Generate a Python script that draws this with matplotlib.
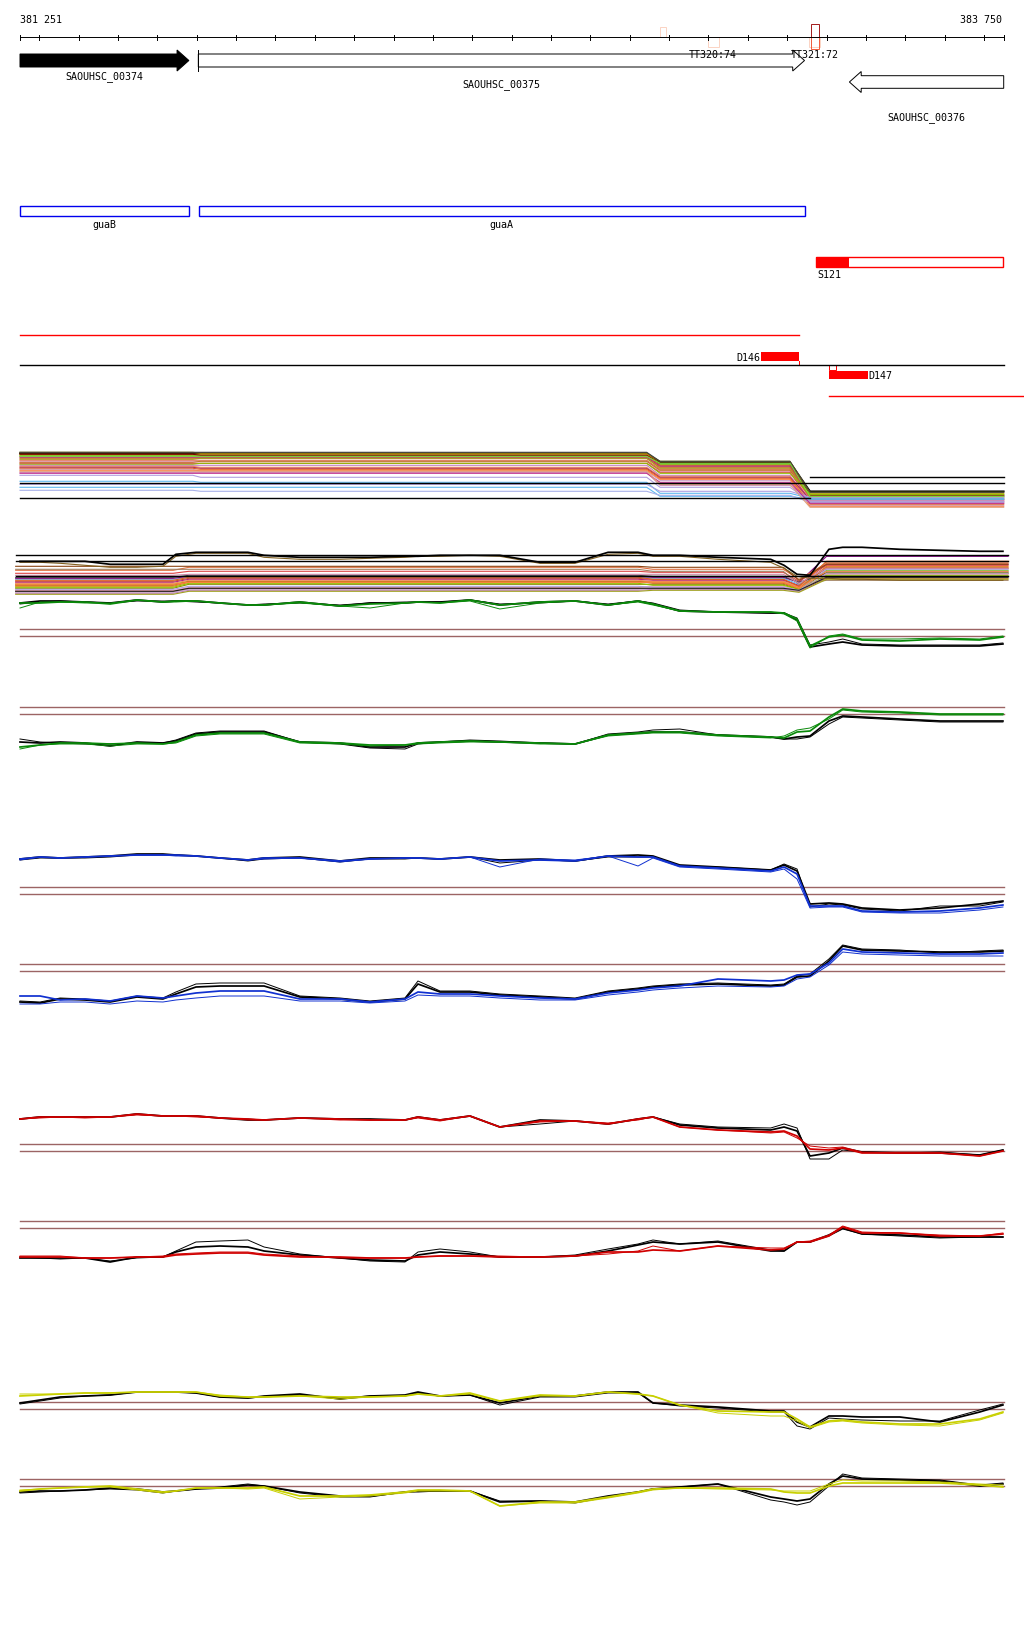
import numpy as np
import matplotlib.pyplot as plt

plt.rcParams['font.family'] = 'DejaVu Sans Mono'

# ---- window
START, END = 381251, 383750
W, H = 1024, 1640
PX_LEFT, PX_RIGHT = 20, 1003.7

# ---- genes
GENE_NAMES = ['SAOUHSC_00374', 'SAOUHSC_00375', 'SAOUHSC_00376']
GENE_START = [381251, 381704, 383358]
GENE_END = [381680, 383244, 383750]
GENE_STRAND = [1, 1, -1]
GENE_FILLED = [True, False, False]

# ---- terminators
TERM_NAMES = ['TT320:74', 'TT321:72']
TERM_POS = [383012, 383270]
TERM_BOX_START = [382877, 382998, 383255, 383260, 383260]
TERM_BOX_END = [382892, 383026, 383283, 383280, 383280]
TERM_BOX_H = [10, -10, -10, 13, -12]
TERM_BOX_COLOR = ['#fbd3c3', '#fbd3c3', '#fbd3c3', '#a31a1a', '#f25a3a']

# ---- operon annotation (blue boxes)
OPERON_NAMES = ['guaB', 'guaA']
OPERON_START = [381251, 381705]
OPERON_END = [381680, 383244]

# ---- segments
S121_START, S121_END, S121_FILL_END = 383273, 383749, 383358
D146_START, D146_END = 383134, 383231
D147_START, D147_END, D147_MARK_END = 383307, 383406, 383325

# ---- multi-sample track A (levels above the full reference line)
A_COLORS = ['#000000', '#8c8c00', '#e8801a', '#66dd00', '#c8502a', '#b02080', '#800000',
            '#d2691e', '#a0a020', '#e07040', '#e8a0d0', '#c07830', '#dd4444', '#90c000',
            '#c080c0', '#f09060', '#b03060', '#e06020', '#c8a0c8', '#ff8040', '#cc88aa',
            '#b0a0e0', '#60b8f0', '#b0a0e0', '#60b8f0', '#a8b0e8', '#c03090', '#e0a080',
            '#404040', '#70e040']
A_LEFT1 = [30, 31, 29, 28, 27, 26, 29, 25, 24, 23, 22, 21, 20, 19, 18, 17, 16, 15, 14, 13,
           11, 8, 2, -1, -4, -7, 10, 12, 31, 27]
A_LEFT2 = [30, 30, 29, 28, 27, 26, 28, 25, 25, 23, 22, 22, 20, 20, 18, 16, 15, 14, 12, 13,
           11, 6, 1, -1, -4, -8, 10, 12, 31, 27]
A_MID = [21, 22, 20, 19, 18, 17, 20, 16, 15, 14, 12, 13, 11, 10, 8, 7, 6, 5, 3, 4,
         -2, -4, -10, -8, -13, -12, 1, -1, 22, 20]
A_RIGHT = [-8, -9, -10, -11, -12, -13, -12, -14, -15, -16, -17, -13, -18, -11, -19, -20,
           -16, -21, -22, -23, -17, -18, -15, -14, -16, -19, -20, -24, -9, -13]

# ---- multi-sample track B
B_COLORS = ['#c8502a', '#66dd00', '#e8801a', '#8c8c00', '#b02080', '#e8a0d0', '#60b8f0',
            '#d2691e', '#c07830', '#800080', '#dd4444', '#e07040', '#a08060', '#c080c0',
            '#90c000', '#f09060', '#b0a0e0', '#404040', '#e06020', '#c8a0c8', '#a0a020',
            '#cc88aa', '#8b4513', '#ff8040', '#202020']
B_LEFT1 = [-5, -8, -10, -12, -6, -14, -3, -9, -15, -2, 3, 6, 7, -17, -11, -7, -13, -1, -4,
           -16, -18, 1, 10, -8, -15]
B_LEFT2 = [-2, -5, -6, -8, -3, -11, -1, -5, -12, 0, 5, 9, 7, -14, -7, -4, -10, 1, -1,
           -13, -15, 2, 10, -6, -12]
B_MID = [-3, -6, -5, -8, -4, -10, -2, -7, -12, -1, 4, 7, 5, -13, -9, -5, -11, 0, -3,
         -12, -14, 2, 9, -6, -12]
B_DIP = [-10, -12, -11, -13, -9, -14, -8, -12, -15, -6, -5, -3, -8, -15, -13, -11, -14,
         -6, -10, -15, -16, -7, -4, -12, -14]
B_RIGHT = [8, 6, 10, 4, 12, 2, 5, 9, -2, 20, 11, 13, -4, 0, 1, 14, 7, 3, 15, 3, -3, 8,
           12, 5, -1]

# profile positions shared by the single-sample tracks
POS = [381251, 381302, 381353, 381416, 381480, 381548, 381614, 381647, 381698, 381759,
       381830, 381871, 381962, 382064, 382140, 382229, 382262, 382318, 382394, 382470,
       382572, 382661, 382745, 382821, 382859, 382927, 383024, 383158, 383192, 383225,
       383258, 383306, 383341, 383390, 383486, 383588, 383689, 383748]

B_TOP_BLACK = [15, 15, 15, 15, 12, 12, 12, 22, 24, 24, 24, 21, 19, 19, 19, 20, 20, 21, 21,
               21, 14, 14, 24, 24, 21, 21, 19, 17, 11, 2, 1, 27, 29, 29, 27, 26, 25, 25]
B_TOP_OLIVE = [14, 14, 13, 11, 9, 9, 10, 20, 23, 23, 23, 19, 17, 17, 18, 19, 20, 20, 21,
               20, 13, 13, 22, 23, 20, 20, 17, 14, 8, 0, -2, -2, -3, -3, -4, -4, -4, -4]

GREEN1_BLACK = [33, 35, 35, 34, 33, 36, 34, 35, 35, 33, 31, 31, 34, 30, 33, 33, 34, 34, 36,
                31, 34, 35, 31, 35, 32, 25, 24, 23, 23, 16, -11, -8, -6, -9, -10, -10, -10, -8]
GREEN1_BLACK_THIN = [32, 34, 35, 34, 33, 35, 35, 35, 34, 33, 31, 32, 33, 31, 33, 34, 34, 34,
                     36, 32, 33, 35, 32, 35, 33, 26, 24, 23, 23, 18, -9, -6, -3, -8, -9, -9, -9, -7]
GREEN1_COL = [33, 33, 34, 34, 32, 36, 34, 35, 35, 33, 31, 31, 34, 30, 32, 33, 34, 33, 36,
              31, 34, 35, 31, 35, 32, 25, 24, 24, 23, 17, -10, -1, 1, -4, -5, -3, -4, -1]
GREEN1_COL_THIN = [28, 34, 34, 33, 33, 36, 34, 34, 35, 33, 31, 31, 33, 30, 28, 33, 34, 33,
                   35, 27, 33, 35, 31, 34, 31, 25, 24, 24, 22, 15, -12, 0, 2, -3, -3, -2, -3, 0]

GREEN2_BLACK = [-28, -29, -28, -29, -32, -28, -29, -27, -20, -18, -18, -18, -28, -29, -33,
                -33, -29, -28, -27, -28, -29, -30, -21, -19, -18, -18, -21, -23, -25, -23,
                -22, -7, -2, -3, -5, -7, -7, -7]
GREEN2_BLACK_THIN = [-25, -28, -29, -30, -30, -29, -29, -26, -19, -17, -17, -17, -28, -30,
                     -34, -35, -30, -28, -26, -27, -29, -30, -20, -18, -16, -15, -21, -23,
                     -25, -25, -23, -10, -3, -4, -6, -8, -8, -8]
GREEN2_COL = [-33, -31, -29, -29, -30, -29, -30, -28, -21, -19, -19, -19, -28, -29, -31,
              -31, -29, -28, -27, -28, -29, -30, -21, -19, -18, -18, -21, -23, -24, -18,
              -17, -3, 5, 3, 2, 0, 0, 0]
GREEN2_COL_THIN = [-35, -31, -30, -30, -32, -30, -30, -29, -22, -20, -20, -20, -29, -30,
                   -32, -31, -30, -29, -28, -28, -30, -30, -22, -20, -19, -19, -22, -24,
                   -22, -16, -14, -5, 4, 2, 1, -1, -1, -1]

BLUE1_BLACK = [35, 37, 36, 37, 38, 40, 40, 39, 38, 36, 34, 36, 37, 33, 36, 36, 36, 35, 37,
               34, 35, 33, 38, 39, 38, 29, 27, 24, 29, 23, -10, -9, -10, -14, -16, -14, -10, -7]
BLUE1_BLACK_THIN = [34, 36, 36, 36, 37, 39, 39, 39, 38, 36, 33, 35, 36, 32, 35, 35, 36, 35,
                    37, 31, 34, 33, 37, 37, 37, 28, 27, 24, 30, 25, -13, -10, -11, -15, -17,
                    -12, -12, -8]
BLUE1_COL = [35, 37, 36, 37, 38, 39, 39, 39, 38, 36, 34, 36, 36, 33, 35, 36, 36, 35, 37, 33,
             34, 33, 38, 37, 37, 28, 26, 23, 27, 20, -12, -12, -12, -17, -18, -17, -14, -11]
BLUE1_COL_THIN = [34, 37, 36, 37, 38, 39, 39, 38, 38, 36, 34, 35, 36, 32, 35, 36, 36, 35,
                  37, 27, 35, 34, 38, 28, 36, 27, 25, 22, 25, 15, -14, -13, -13, -18, -19,
                  -19, -16, -13]

BLUE2_BLACK = [-31, -32, -28, -29, -31, -26, -28, -23, -16, -15, -15, -15, -26, -28, -31,
               -28, -13, -21, -21, -24, -26, -28, -21, -18, -16, -14, -13, -15, -14, -6, -5,
               10, 25, 21, 20, 19, 19, 20]
BLUE2_BLACK_THIN = [-30, -31, -27, -28, -30, -25, -27, -21, -13, -12, -12, -12, -25, -27,
                    -30, -27, -10, -20, -20, -23, -25, -27, -20, -17, -15, -13, -12, -14,
                    -13, -5, -3, 12, 26, 22, 21, 18, 20, 21]
BLUE2_COL = [-25, -25, -29, -28, -30, -25, -27, -25, -22, -20, -20, -20, -28, -28, -31, -28,
             -21, -23, -23, -25, -27, -28, -22, -19, -17, -15, -8, -10, -9, -4, -3, 8, 22,
             19, 18, 17, 17, 18]
BLUE2_COL_THIN = [-33, -33, -31, -31, -33, -30, -31, -29, -27, -25, -25, -25, -30, -30, -32,
                  -30, -24, -25, -25, -27, -29, -29, -24, -21, -19, -17, -15, -16, -15, -8,
                  -6, 6, 19, 17, 16, 15, 15, 15]

RED1_BLACK = [32, 34, 34, 34, 34, 37, 35, 35, 35, 33, 31, 31, 33, 32, 32, 31, 34, 31, 35, 24,
              31, 30, 27, 32, 34, 26, 23, 21, 24, 20, -5, -2, 3, -1, -2, -2, -4, 1]
RED1_BLACK_THIN = [32, 34, 34, 34, 34, 37, 35, 35, 35, 33, 32, 31, 33, 32, 31, 31, 34, 31,
                   35, 24, 27, 30, 27, 32, 34, 27, 24, 23, 27, 23, -8, -8, 1, -1, -2, -1, -4, 1]
RED1_COL = [32, 34, 34, 34, 34, 37, 35, 35, 35, 33, 32, 31, 33, 32, 31, 31, 34, 31, 35, 24,
            30, 30, 27, 32, 34, 24, 21, 19, 20, 15, 2, 1, 3, -2, -2, -2, -5, 0]
RED1_COL_THIN = [32, 33, 34, 33, 34, 36, 35, 35, 34, 33, 31, 31, 33, 31, 31, 31, 33, 30, 35,
                 24, 29, 30, 28, 31, 34, 24, 21, 18, 19, 13, 5, 3, 4, -1, -2, -2, -5, 0]

RED2_BLACK = [-30, -30, -30, -30, -34, -29, -29, -24, -19, -18, -19, -23, -27, -30, -32,
              -33, -27, -24, -26, -29, -29, -28, -23, -17, -14, -16, -14, -23, -23, -14, -14,
              -7, 0, -6, -7, -9, -9, -9]
RED2_BLACK_THIN = [-29, -30, -31, -30, -33, -30, -29, -23, -14, -13, -12, -19, -26, -30, -33,
                   -34, -24, -21, -24, -29, -29, -27, -21, -16, -12, -16, -13, -22, -23, -14,
                   -14, -8, -1, -6, -8, -10, -9, -9]
RED2_COL = [-29, -29, -29, -30, -30, -29, -29, -27, -26, -25, -25, -27, -29, -29, -30, -30,
            -29, -28, -28, -29, -29, -28, -24, -24, -22, -23, -18, -22, -21, -14, -14, -8, 1,
            -5, -5, -8, -8, -6]
RED2_COL_THIN = [-28, -28, -28, -30, -30, -29, -28, -26, -25, -24, -24, -26, -28, -30, -30,
                 -30, -29, -28, -28, -28, -29, -28, -26, -23, -18, -23, -18, -20, -20, -14,
                 -13, -7, 2, -4, -5, -7, -8, -5]

YELLOW1_BLACK = [6, 9, 12, 13, 14, 17, 17, 17, 16, 12, 11, 13, 15, 10, 13, 14, 17, 13, 14, 6,
                 13, 13, 17, 17, 6, 4, 2, -2, -2, -13, -18, -7, -7, -8, -8, -13, -3, 4]
YELLOW1_BLACK_THIN = [5, 8, 11, 13, 14, 17, 17, 17, 16, 12, 11, 12, 14, 11, 13, 13, 16, 13,
                      14, 4, 12, 12, 16, 16, 6, 3, 1, -3, -3, -17, -20, -9, -10, -11, -12,
                      -12, -1, 5]
YELLOW1_COL = [13, 14, 15, 16, 16, 17, 17, 17, 17, 13, 12, 12, 13, 12, 12, 13, 15, 13, 16, 8,
               14, 13, 17, 15, 13, 4, -2, -3, -3, -10, -18, -12, -11, -13, -15, -15, -10, -3]
YELLOW1_COL_THIN = [15, 15, 15, 16, 16, 17, 17, 17, 17, 14, 12, 12, 13, 10, 12, 13, 15, 13,
                    15, 8, 13, 13, 17, 15, 13, 4, -4, -7, -7, -12, -19, -13, -12, -14, -16,
                    -17, -11, -4]

YELLOW2_BLACK = [-6, -5, -5, -4, -2, -3, -6, -5, -3, -2, 1, 0, -6, -10, -10, -6, -5, -5, -5,
                 -16, -15, -16, -10, -6, -3, -1, 2, -11, -13, -15, -13, 2, 10, 7, 6, 5, 0, 2]
YELLOW2_BLACK_THIN = [-7, -6, -5, -4, -3, -4, -7, -5, -3, -1, 2, 0, -7, -11, -11, -6, -6, -5,
                      -5, -15, -15, -17, -11, -6, -3, -1, 2, -14, -16, -19, -16, 0, 12, 8, 7,
                      6, 1, 3]
YELLOW2_COL = [-5, -3, -2, -1, 0, -3, -6, -5, -2, -2, -2, -1, -10, -10, -9, -6, -4, -4, -5,
               -20, -16, -16, -11, -6, -3, -2, -2, -3, -6, -7, -7, 0, 3, 3, 3, 3, 1, -1]
YELLOW2_COL_THIN = [-4, -3, -2, -1, -1, -4, -7, -5, -2, -2, -3, -2, -13, -11, -10, -7, -5,
                    -5, -5, -20, -17, -17, -12, -7, -4, -2, -3, -4, -5, -5, -5, 2, 6, 5, 5, 4,
                    2, 1]

# ---- layout (pixel rows)
PROFILE_TRACKS = [
    (637, '#0a8a0a', GREEN1_BLACK, GREEN1_BLACK_THIN, GREEN1_COL, GREEN1_COL_THIN),
    (715, '#0a8a0a', GREEN2_BLACK, GREEN2_BLACK_THIN, GREEN2_COL, GREEN2_COL_THIN),
    (895, '#1030d0', BLUE1_BLACK, BLUE1_BLACK_THIN, BLUE1_COL, BLUE1_COL_THIN),
    (972, '#1030d0', BLUE2_BLACK, BLUE2_BLACK_THIN, BLUE2_COL, BLUE2_COL_THIN),
    (1152, '#d00000', RED1_BLACK, RED1_BLACK_THIN, RED1_COL, RED1_COL_THIN),
    (1229, '#d00000', RED2_BLACK, RED2_BLACK_THIN, RED2_COL, RED2_COL_THIN),
    (1410, '#c8d000', YELLOW1_BLACK, YELLOW1_BLACK_THIN, YELLOW1_COL, YELLOW1_COL_THIN),
    (1487, '#c8d000', YELLOW2_BLACK, YELLOW2_BLACK_THIN, YELLOW2_COL, YELLOW2_COL_THIN),
]
BROWN = '#9c6464'
THIN, THICK = 0.7, 1.25

bp_per_px = (END - START) / (PX_RIGHT - PX_LEFT)
x0 = START - PX_LEFT * bp_per_px
x1 = x0 + W * bp_per_px

fig = plt.figure(figsize=(W / 100, H / 100), dpi=100)
ax = fig.add_axes([0, 0, 1, 1])
ax.set_xlim(x0, x1)
ax.set_ylim(H, 0)
ax.axis('off')
FS = 7.2

# ruler
ax.plot([START, END], [38.3, 38.3], color='k', lw=THIN)
for t in [START] + list(range(381300, END, 100)) + [END]:
    ax.plot([t, t], [36.3, 40.6], color='k', lw=THIN)
ax.text(START, 20, '381 251', fontsize=FS, va='center', ha='left')
ax.text(END - 4, 20, '383 750', fontsize=FS, va='center', ha='right')

# terminators
for s, e, h, c in zip(TERM_BOX_START, TERM_BOX_END, TERM_BOX_H, TERM_BOX_COLOR):
    y0 = 38.3 - h if h > 0 else 38.3
    ax.add_patch(plt.Rectangle((s, y0), e - s, abs(h), fill=False, ec=c, lw=THIN))

# genes
head = 30
for name, s, e, st, filled in zip(GENE_NAMES, GENE_START, GENE_END, GENE_STRAND, GENE_FILLED):
    if st > 0:
        yc, hh, bh = 61.5, 10.5, 6.5
        pts = [(s, yc - bh), (e - head, yc - bh), (e - head, yc - hh), (e, yc),
               (e - head, yc + hh), (e - head, yc + bh), (s, yc + bh)]
    else:
        yc, hh, bh = 83, 10.5, 6.3
        pts = [(e, yc - bh), (s + head, yc - bh), (s + head, yc - hh), (s, yc),
               (s + head, yc + hh), (s + head, yc + bh), (e, yc + bh)]
    ax.add_patch(plt.Polygon(pts, closed=True, fc='k' if filled else 'white', ec='k', lw=THIN))
    if not filled and st > 0:
        ax.plot([s, s], [yc - hh, yc + hh], color='k', lw=THIN)
label_y = [77, 85, 118]
for name, s, e, ly in zip(GENE_NAMES, GENE_START, GENE_END, label_y):
    ax.text((s + e) / 2, ly, name, fontsize=FS, ha='center', va='center')
for name, p in zip(TERM_NAMES, TERM_POS):
    ax.text(p, 55, name, fontsize=FS, ha='center', va='center')

# operons
for name, s, e in zip(OPERON_NAMES, OPERON_START, OPERON_END):
    ax.add_patch(plt.Rectangle((s, 207.3), e - s, 10, fill=False, ec='#0000ee', lw=1.0))
    ax.text((s + e) / 2, 225, name, fontsize=FS, ha='center', va='center')

# S121
ax.add_patch(plt.Rectangle((S121_START, 258.3), S121_FILL_END - S121_START, 10, fc='#ff0000', ec='none'))
ax.add_patch(plt.Rectangle((S121_START, 258.3), S121_END - S121_START, 10, fill=False, ec='#ff0000', lw=1.0))
ax.text(S121_START + 3, 275, 'S121', fontsize=FS, ha='left', va='center')

# D146 / D147
ax.plot([START, D146_END], [336, 336], color='#ff0000', lw=1.0)
ax.add_patch(plt.Rectangle((D146_START, 353.3), D146_END - D146_START, 8.4, fc='#ff0000', ec='none'))
ax.plot([D146_END, D146_END], [361.7, 366], color='#ff0000', lw=THIN)
ax.text(D146_START - 1, 358, 'D146', fontsize=FS, ha='right', va='center')
ax.plot([START, END], [366, 366], color='k', lw=1.0)
ax.add_patch(plt.Rectangle((D147_START, 366), D147_MARK_END - D147_START, 4.7, fill=False, ec='#ff0000', lw=THIN))
ax.add_patch(plt.Rectangle((D147_START, 371.7), D147_END - D147_START, 8.3, fc='#ff0000', ec='none'))
ax.text(D147_END, 376, 'D147', fontsize=FS, ha='left', va='center')
ax.plot([D147_START, x1], [397.3, 397.3], color='#ff0000', lw=1.0)

# track A
base_a = 484.3
brk_a = [START, 381690, 381710, 382843, 382877, 383207, 383258, END]
for c, l1, l2, m, r in zip(A_COLORS, A_LEFT1, A_LEFT2, A_MID, A_RIGHT):
    lv = [l1, l1, l2, l2, m, m, r, r]
    ax.plot(brk_a, [base_a - v for v in lv], color=c, lw=THICK if c == '#000000' else 0.8)
ax.plot([START, END], [base_a, base_a], color='k', lw=1.0)
ax.plot([START, 383258], [499.3, 499.3], color='k', lw=1.0)
ax.plot([383258, END], [478.3, 478.3], color='k', lw=1.0)

# track B
base_b = 577.3
lo_b, hi_b = START - 11, END + 11
brk_b = [lo_b, 381640, 381680, 382821, 382859, 383190, 383230, 383300, hi_b]
for c, l1, l2, m, d, r in zip(B_COLORS, B_LEFT1, B_LEFT2, B_MID, B_DIP, B_RIGHT):
    lv = [l1, l1, l2, l2, m, m, d, r, r]
    ax.plot(brk_b, [base_b - v for v in lv], color=c, lw=0.8)
ax.plot(POS, [base_b - v for v in B_TOP_OLIVE], color='#806020', lw=0.8)
ax.plot(POS, [base_b - v for v in B_TOP_BLACK], color='k', lw=THICK)
for yy in [555.7, 562.3, 577.3]:
    ax.plot([lo_b, hi_b], [yy, yy], color='k', lw=1.0)

# single-sample tracks
for base, col, blk, blk_t, cl, cl_t in PROFILE_TRACKS:
    ax.plot([START, END], [base - 7, base - 7], color=BROWN, lw=1.0)
    ax.plot([START, END], [base, base], color=BROWN, lw=1.0)
    ax.plot(POS, [base - v for v in blk_t], color='k', lw=THIN)
    ax.plot(POS, [base - v for v in blk], color='k', lw=THICK)
    ax.plot(POS, [base - v for v in cl_t], color=col, lw=THIN)
    ax.plot(POS, [base - v for v in cl], color=col, lw=THICK)

fig.savefig('out.png', dpi=100)
